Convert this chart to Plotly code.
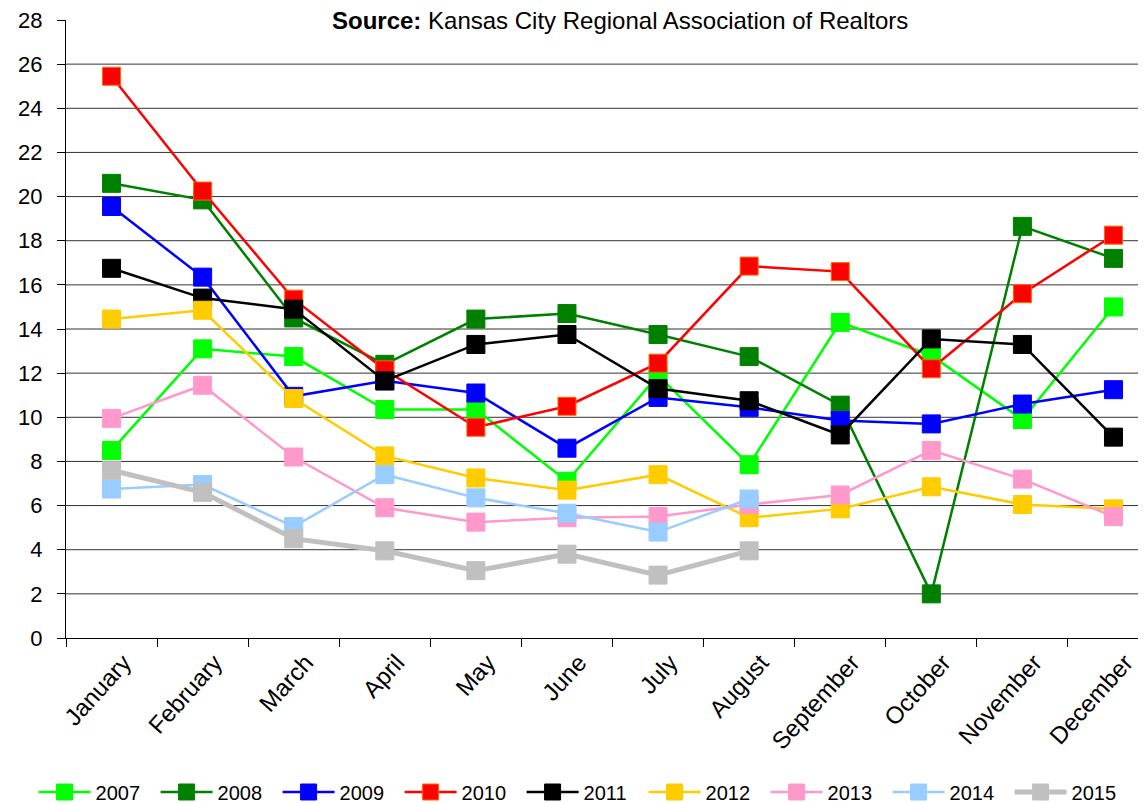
import plotly.graph_objects as go

months = ["January", "February", "March", "April", "May", "June", "July",
          "August", "September", "October", "November", "December"]

y2007 = [8.5, 13.1, 12.75, 10.35, 10.35, 7.1, 11.9, 7.85, 14.3, 12.8, 9.9, 15.0]
y2008 = [20.6, 19.85, 14.5, 12.4, 14.45, 14.7, 13.75, 12.75, 10.55, 2.0, 18.65, 17.2]
y2009 = [19.55, 16.35, 10.95, 11.65, 11.1, 8.6, 10.9, 10.45, 9.85, 9.7, 10.6, 11.25]
y2010 = [25.45, 20.25, 15.35, 12.15, 9.55, 10.5, 12.45, 16.85, 16.6, 12.2, 15.6, 18.25]
y2011 = [16.75, 15.4, 14.9, 11.65, 13.3, 13.75, 11.3, 10.75, 9.2, 13.55, 13.3, 9.1]
y2012 = [14.45, 14.85, 10.85, 8.25, 7.25, 6.7, 7.4, 5.45, 5.85, 6.85, 6.05, 5.85]
y2013 = [9.95, 11.45, 8.2, 5.9, 5.25, 5.45, 5.5, 6.05, 6.48, 8.5, 7.2, 5.5]
y2014 = [6.75, 6.95, 5.05, 7.4, 6.35, 5.65, 4.8, 6.3]
y2015 = [7.6, 6.6, 4.5, 3.95, 3.05, 3.8, 2.85, 3.95]

y_ticks = list(range(0, 29, 2))

series = [
    ("2007", y2007, "#00FF00", "#00FF00", 2.5),
    ("2008", y2008, "#008000", "#008000", 2.5),
    ("2009", y2009, "#0000FF", "#0000FF", 2.5),
    ("2010", y2010, "#FF0000", "#FF6600", 2.5),
    ("2011", y2011, "#000000", "#000000", 2.5),
    ("2012", y2012, "#FFCC00", "#FFCC00", 2.5),
    ("2013", y2013, "#FF99CC", "#FF99CC", 2.5),
    ("2014", y2014, "#99CCFF", "#99CCFF", 2.5),
    ("2015", y2015, "#C0C0C0", "#C0C0C0", 5),
]

fig = go.Figure()
for name, vals, col, border, lw in series:
    fig.add_trace(go.Scatter(
        x=months[:len(vals)], y=vals, name=name, mode="lines+markers",
        line=dict(color=col, width=lw),
        marker=dict(symbol="square", size=18, color=col,
                    line=dict(color=border, width=1)),
    ))

font_family = "Arial, Liberation Sans, sans-serif"

# horizontal gridlines (none at the top value, as in the original)
shapes = [dict(type="line", xref="paper", yref="y", x0=0, x1=1, y0=v, y1=v,
               line=dict(color="#333333", width=1), layer="below")
          for v in y_ticks[1:-1]]

fig.update_layout(
    width=1138, height=795,
    margin=dict(l=58, r=0, t=12, b=165, autoexpand=False),
    paper_bgcolor="white", plot_bgcolor="white",
    font=dict(family=font_family, size=20, color="black"),
    showlegend=True,
    legend=dict(orientation="h", x=-0.03, xanchor="left", y=-0.2492,
                yanchor="middle", font=dict(size=20),
                itemwidth=52, entrywidth=55, entrywidthmode="pixels",
                itemclick=False, tracegroupgap=0),
    xaxis=dict(type="category", categoryorder="array", categoryarray=months,
               range=[-0.5, 11.357], showline=True, linecolor="black",
               linewidth=1, ticks="outside", ticklen=8, tickcolor="black",
               tickson="boundaries", tickangle=-48, showgrid=False,
               ticklabelshift=12,
               tickfont=dict(size=24), zeroline=False, automargin=False),
    yaxis=dict(range=[0, 28], tickvals=y_ticks, showline=True, linecolor="black",
               linewidth=1, ticks="outside", ticklen=8, tickcolor="black",
               ticklabelstandoff=10, ticklabeloverflow="allow",
               showgrid=False, tickfont=dict(size=22), zeroline=False,
               automargin=False),
    shapes=shapes,
    annotations=[dict(
        text="<b>Source:</b> Kansas City Regional Association of Realtors",
        xref="paper", yref="paper", x=0.513, y=0.9984,
        xanchor="center", yanchor="middle", showarrow=False,
        font=dict(size=24, family=font_family, color="black"),
    )],
)

fig.write_html("out.html")
